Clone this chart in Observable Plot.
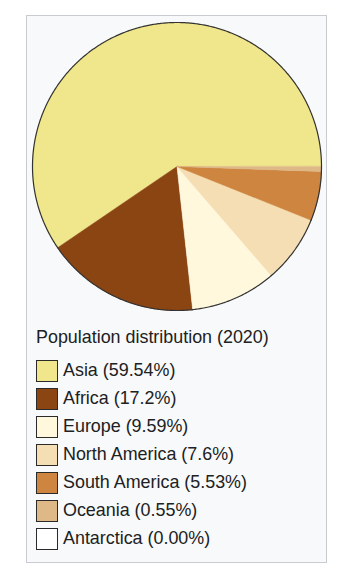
<!DOCTYPE html>
<html>
<head>
<meta charset="utf-8">
<script src="https://cdn.jsdelivr.net/npm/d3@7"></script>
<script src="https://cdn.jsdelivr.net/npm/@observablehq/plot@0.6"></script>
<style>
  html, body { margin: 0; padding: 0; background: #ffffff; width: 363px; height: 588px; overflow: hidden; }
  body { position: relative; font-family: "Liberation Sans", Arial, sans-serif; color: #202122; }
  #box { position: absolute; left: 26px; top: 15px; width: 299px; height: 546px; border: 1px solid #c8ccd1; background: #f8f9fa; }
  #chart { position: absolute; left: 27px; top: 16px; }
  #title { position: absolute; left: 36px; top: 327px; font-size: 17.9px; line-height: 20px; white-space: nowrap; }
  .row { position: absolute; left: 36px; height: 23px; display: flex; align-items: center; white-space: nowrap; }
  .sw { width: 20px; height: 20px; border: 1.5px solid #2a2a2a; box-sizing: content-box; }
  .lbl { margin-left: 5px; font-size: 17.9px; line-height: 23px; }
</style>
</head>
<body>
<div id="box"></div>
<div id="chart"></div>
<div id="title">Population distribution (2020)</div>
<div id="legend"></div>
<script>
const continents = ["Asia", "Africa", "Europe", "North America", "South America", "Oceania", "Antarctica"];
const shares = [59.54, 17.2, 9.59, 7.6, 5.53, 0.55, 0.00];
const shareLabels = ["59.54%", "17.2%", "9.59%", "7.6%", "5.53%", "0.55%", "0.00%"];
const colors = ["#F0E68C", "#8B4513", "#FFF8DC", "#F5DEB3", "#CD853F", "#DEB887", "#FFFFFF"];
const chartTitle = "Population distribution (2020)";

// Build slice polygons (counterclockwise from 3 o'clock) from the shares
const total = d3.sum(shares);
const slices = [];
const arcs = [];
let acc = 0;
continents.forEach((name, i) => {
  const v = shares[i];
  const a0 = acc / total * 2 * Math.PI;
  acc += v;
  const a1 = acc / total * 2 * Math.PI;
  if (v <= 0) return;
  const n = Math.max(2, Math.ceil((a1 - a0) / (Math.PI / 360)));
  slices.push({name, x: 0, y: 0});
  for (let k = 0; k <= n; k++) {
    const a = a0 + (a1 - a0) * k / n;
    const p = {name, x: Math.cos(a), y: Math.sin(a)};
    slices.push(p);
    arcs.push(p);
  }
});

const chart = Plot.plot({
  width: 300,
  height: 300,
  marginLeft: 5,
  marginRight: 6,
  marginTop: 6,
  marginBottom: 6,
  x: {domain: [-1, 1], axis: null},
  y: {domain: [-1, 1], axis: null},
  color: {domain: continents, range: colors},
  style: {background: "transparent", overflow: "visible"},
  marks: [
    Plot.line(slices, {x: "x", y: "y", z: "name", fill: "name", stroke: "name", strokeWidth: 0.5, curve: "linear-closed"}),
    Plot.line(arcs, {x: "x", y: "y", z: "name", stroke: "#333333", strokeWidth: 1.2})
  ]
});
document.getElementById("chart").appendChild(chart);
document.getElementById("title").textContent = chartTitle;

const color = chart.scale("color");
const legend = document.getElementById("legend");
continents.forEach((name, i) => {
  const row = document.createElement("div");
  row.className = "row";
  row.style.top = (359 + i * 28) + "px";
  const sw = document.createElement("div");
  sw.className = "sw";
  sw.style.background = color.apply(name);
  const lbl = document.createElement("span");
  lbl.className = "lbl";
  lbl.textContent = `${name} (${shareLabels[i]})`;
  row.appendChild(sw);
  row.appendChild(lbl);
  legend.appendChild(row);
});
</script>
</body>
</html>
